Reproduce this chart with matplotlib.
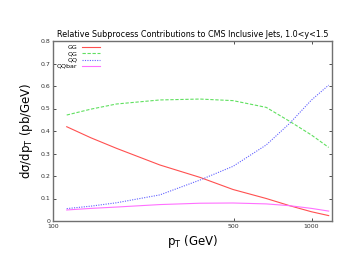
import matplotlib
matplotlib.use("Agg")
import matplotlib.pyplot as plt
from matplotlib.ticker import FixedLocator, NullLocator

# values
pt = [113, 140, 176, 259, 370, 497, 668, 823, 1000, 1165]
gg = [0.419, 0.370, 0.323, 0.249, 0.194, 0.140, 0.100, 0.068, 0.041, 0.024]
qg = [0.471, 0.497, 0.520, 0.538, 0.542, 0.535, 0.505, 0.443, 0.382, 0.327]
qq = [0.055, 0.066, 0.081, 0.116, 0.182, 0.243, 0.338, 0.434, 0.538, 0.604]
qqbar = [0.049, 0.056, 0.062, 0.073, 0.079, 0.080, 0.076, 0.068, 0.056, 0.044]

xticks = [100, 500, 1000]
yticks = [0, 0.1, 0.2, 0.3, 0.4, 0.5, 0.6, 0.7, 0.8]

fig = plt.figure(figsize=(3.54, 2.74), dpi=100)
ax = fig.add_axes([53 / 354, 1 - 221 / 274, 279 / 354, 180 / 274])

ax.plot(pt, gg, color="#ff5050", lw=0.8, ls="-", label="GG")
ax.plot(pt, qg, color="#60e060", lw=0.8, ls=(0, (3, 1.5)), label="QG")
ax.plot(pt, qq, color="#6060ff", lw=0.8, ls=(0, (1, 1.2)), label="QQ")
ax.plot(pt, qqbar, color="#ff70ff", lw=0.8, ls="-", label="QQbar")

ax.set_xscale("log")
ax.set_xlim(100, 1200)
ax.set_ylim(0, 0.8)
ax.xaxis.set_major_locator(FixedLocator(xticks))
ax.xaxis.set_minor_locator(NullLocator())
ax.set_xticklabels([str(v) for v in xticks])
ax.set_yticks(yticks)
ax.set_yticklabels(["0"] + ["%.1f" % v for v in yticks[1:]])
ax.tick_params(labelsize=4.5, length=2.5, width=0.6, direction="in",
               top=True, right=True, pad=2, colors="#333333")
for s in ax.spines.values():
    s.set_color("#707070")
    s.set_linewidth(1.0)

ax.set_title("Relative Subprocess Contributions to CMS Inclusive Jets, 1.0<y<1.5",
             fontsize=5.8, pad=3)
ax.set_xlabel("p$_\\mathregular{T}$ (GeV)", fontsize=8.5, labelpad=3)
ax.set_ylabel("d\u03c3/dp$_\\mathregular{T}$ (pb/GeV)", fontsize=8.5, labelpad=4)

leg = ax.legend(loc="upper left", fontsize=4.5, frameon=False, markerfirst=False,
                handlelength=2.9, handletextpad=0.65, labelspacing=0.12,
                borderaxespad=0.15, borderpad=0.5, bbox_to_anchor=(0.0, 1.0))
for t in leg.get_texts():
    t.set_ha("right")
leg._legend_box.align = "right"

fig.savefig("out.png", dpi=100)
